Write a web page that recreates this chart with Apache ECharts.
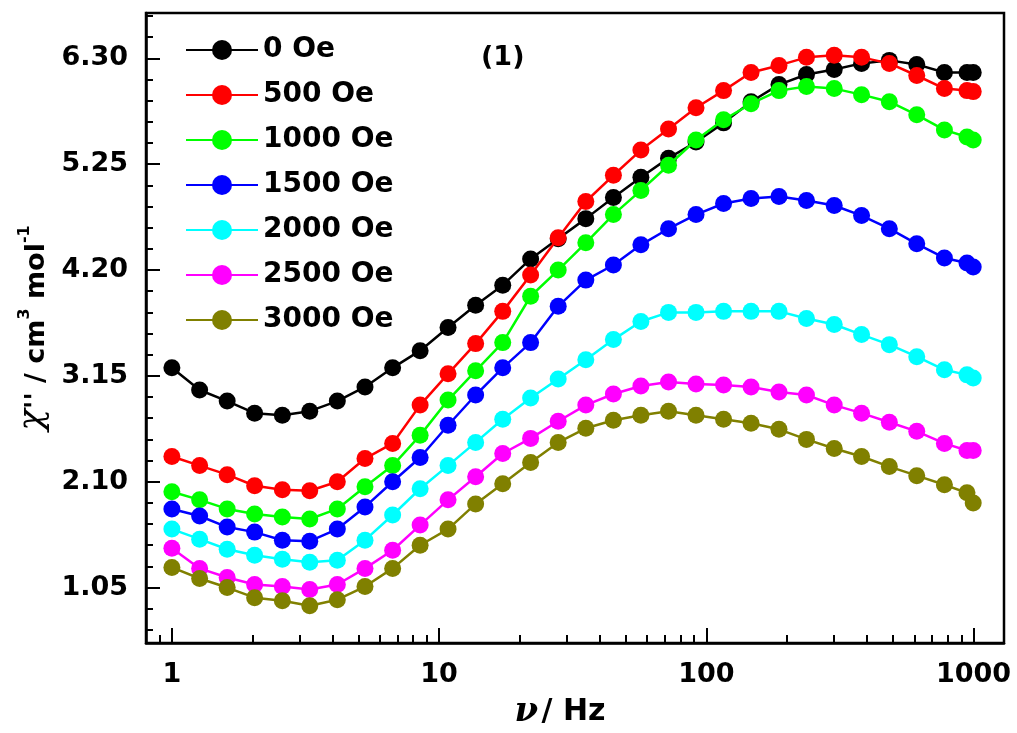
<!DOCTYPE html>
<html>
<head>
<meta charset="utf-8">
<title>AC susceptibility χ'' vs frequency</title>
<script src="https://cdn.jsdelivr.net/npm/echarts@6/dist/echarts.min.js"></script>
<style>
  html, body { margin: 0; padding: 0; background: #ffffff; }
  #chart { width: 1017px; height: 733px; }
</style>
</head>
<body>
<div id="chart"></div>
<script>
// Frequencies of the ac measurement (Hz)
const freqHz = [1, 1.27, 1.61, 2.04, 2.59, 3.28, 4.16, 5.28, 6.70, 8.49,
  10.8, 13.7, 17.3, 22.0, 27.9, 35.4, 44.9, 56.9, 72.2, 91.5,
  116, 147, 187, 237, 301, 381, 484, 613, 778, 945, 997];

// Out-of-phase susceptibility χ'' (cm3 mol-1) for each applied dc field
const chi0 = [3.23, 3.01, 2.90, 2.78, 2.76, 2.80, 2.90, 3.04, 3.23, 3.40,
  3.63, 3.85, 4.05, 4.31, 4.51, 4.71, 4.92, 5.12, 5.31, 5.47,
  5.66, 5.87, 6.04, 6.14, 6.19, 6.25, 6.28, 6.24, 6.16, 6.16, 6.16];
const chi500 = [2.35, 2.26, 2.17, 2.06, 2.02, 2.01, 2.10, 2.33, 2.48, 2.86,
  3.17, 3.47, 3.79, 4.15, 4.52, 4.88, 5.14, 5.39, 5.60, 5.81,
  5.98, 6.16, 6.23, 6.31, 6.33, 6.31, 6.25, 6.13, 6.00, 5.98, 5.97];
const chi1000 = [2.00, 1.92, 1.83, 1.78, 1.75, 1.73, 1.83, 2.05, 2.26, 2.56,
  2.91, 3.20, 3.48, 3.94, 4.20, 4.47, 4.75, 4.99, 5.24, 5.49,
  5.69, 5.85, 5.98, 6.02, 6.00, 5.94, 5.87, 5.74, 5.59, 5.52, 5.49];
const chi1500 = [1.83, 1.76, 1.65, 1.60, 1.52, 1.51, 1.63, 1.85, 2.10, 2.34,
  2.66, 2.96, 3.23, 3.48, 3.84, 4.10, 4.25, 4.45, 4.61, 4.75,
  4.86, 4.91, 4.93, 4.89, 4.84, 4.74, 4.61, 4.46, 4.32, 4.27, 4.23];
const chi2000 = [1.63, 1.53, 1.43, 1.37, 1.33, 1.30, 1.32, 1.52, 1.77, 2.03,
  2.26, 2.49, 2.72, 2.93, 3.12, 3.31, 3.51, 3.69, 3.78, 3.78,
  3.79, 3.79, 3.79, 3.72, 3.66, 3.56, 3.46, 3.34, 3.21, 3.16, 3.13];
const chi2500 = [1.44, 1.24, 1.15, 1.08, 1.06, 1.03, 1.08, 1.24, 1.42, 1.67,
  1.92, 2.15, 2.38, 2.53, 2.70, 2.86, 2.97, 3.05, 3.09, 3.07,
  3.06, 3.04, 2.99, 2.96, 2.86, 2.78, 2.69, 2.60, 2.48, 2.41, 2.41];
const chi3000 = [1.25, 1.14, 1.05, 0.95, 0.92, 0.87, 0.93, 1.06, 1.24, 1.47,
  1.63, 1.88, 2.08, 2.29, 2.49, 2.63, 2.71, 2.76, 2.80, 2.76,
  2.72, 2.68, 2.62, 2.52, 2.43, 2.35, 2.25, 2.16, 2.07, 1.99, 1.89];

const fieldLabels = ['0 Oe', '500 Oe', '1000 Oe', '1500 Oe', '2000 Oe', '2500 Oe', '3000 Oe'];
const fieldColors = ['#000000', '#ff0000', '#00ff00', '#0000ff', '#00ffff', '#ff00ff', '#808000'];
const chiSets = [chi0, chi500, chi1000, chi1500, chi2000, chi2500, chi3000];

// Axis ticks
const xMajorTicks = [1, 10, 100, 1000];
const xMinorTicks = [0.9, 2, 3, 4, 5, 6, 7, 8, 9, 20, 30, 40, 50, 60, 70, 80, 90,
  200, 300, 400, 500, 600, 700, 800, 900];
const yMajorTicks = [1.05, 2.10, 3.15, 4.20, 5.25, 6.30];
const yMinorTicks = [0.63, 0.84, 1.26, 1.47, 1.68, 1.89, 2.31, 2.52, 2.73, 2.94,
  3.36, 3.57, 3.78, 3.99, 4.41, 4.62, 4.83, 5.04, 5.46, 5.67, 5.88, 6.09, 6.51, 6.72];

const X_MIN = 0.8, X_MAX = 1300, Y_MIN = 0.5, Y_MAX = 6.75;
const FONT = 'DejaVu Sans';

const chart = echarts.init(document.getElementById('chart'), null, { renderer: 'canvas' });

const series = chiSets.map((vals, i) => ({
  name: fieldLabels[i],
  type: 'line',
  xAxisIndex: 0,
  yAxisIndex: 0,
  data: freqHz.map((f, j) => [f, vals[j]]),
  symbol: 'circle',
  symbolSize: 17,
  showSymbol: true,
  lineStyle: { color: fieldColors[i], width: 2.5 },
  itemStyle: { color: fieldColors[i] },
  emphasis: { disabled: true },
  z: 2 + i
}));

const option = {
  animation: false,
  backgroundColor: '#ffffff',
  grid: {
    left: 146, right: 13, top: 13, bottom: 90,
    show: true, borderColor: '#000000', borderWidth: 2.5,
    backgroundColor: 'transparent',
    outerBoundsMode: 'none'
  },
  legend: {
    orient: 'vertical',
    left: 180, top: 31,
    itemWidth: 72, itemHeight: 25, itemGap: 17, itemTextGap: 10,
    selectedMode: false,
    textStyle: { fontFamily: FONT, fontWeight: 'bold', fontSize: 28, color: '#000000', lineHeight: 25 },
    data: fieldLabels
  },
  xAxis: [
    {
      type: 'log', logBase: 10, min: X_MIN, max: X_MAX,
      position: 'bottom',
      axisLine: { show: true, onZero: false, lineStyle: { color: '#000', width: 2.5 } },
      axisTick: { show: true, inside: true, length: 15, customValues: xMajorTicks, lineStyle: { color: '#000', width: 2 } },
      axisLabel: {
        show: true, customValues: xMajorTicks, margin: 18,
        fontFamily: FONT, fontWeight: 'bold', fontSize: 27, color: '#000',
        formatter: v => String(Math.round(v))
      },
      splitLine: { show: false },
      minorTick: { show: false },
      name: '{nu|ν} {t|/ Hz}',
      nameLocation: 'middle', nameGap: 52,
      nameTextStyle: {
        padding: [0, 30, 0, 0],
        rich: {
          nu: { fontFamily: 'DejaVu Serif', fontStyle: 'italic', fontWeight: 'bold', fontSize: 34, color: '#000' },
          t: { fontFamily: FONT, fontWeight: 'bold', fontSize: 30, color: '#000' }
        }
      }
    },
    {
      type: 'log', logBase: 10, min: X_MIN, max: X_MAX,
      position: 'bottom', gridIndex: 0,
      axisLine: { show: false },
      axisTick: { show: true, inside: true, length: 8, customValues: xMinorTicks, lineStyle: { color: '#000', width: 2 } },
      axisLabel: { show: false },
      splitLine: { show: false }
    }
  ],
  yAxis: [
    {
      type: 'value', min: Y_MIN, max: Y_MAX,
      position: 'left',
      axisLine: { show: true, onZero: false, lineStyle: { color: '#000', width: 2.5 } },
      axisTick: { show: true, inside: true, length: 14, customValues: yMajorTicks, lineStyle: { color: '#000', width: 2 } },
      axisLabel: {
        show: true, customValues: yMajorTicks, margin: 18,
        fontFamily: FONT, fontWeight: 'bold', fontSize: 27, color: '#000',
        formatter: v => v.toFixed(2)
      },
      splitLine: { show: false },
      name: '{chi|χ}{t|\'\' / cm}{sup|3}{t| mol}{sup|-1}',
      nameLocation: 'middle', nameRotate: 90, nameGap: 94,
      nameTextStyle: {
        rich: {
          chi: { fontFamily: 'DejaVu Serif', fontStyle: 'italic', fontSize: 36, color: '#000', verticalAlign: 'bottom', lineHeight: 34 },
          t: { fontFamily: FONT, fontWeight: 'bold', fontSize: 27, color: '#000', verticalAlign: 'bottom', lineHeight: 34 },
          sup: { fontFamily: FONT, fontWeight: 'bold', fontSize: 16, color: '#000', verticalAlign: 'top', lineHeight: 34 }
        }
      }
    },
    {
      type: 'value', min: Y_MIN, max: Y_MAX,
      position: 'left', gridIndex: 0,
      axisLine: { show: false },
      axisTick: { show: true, inside: true, length: 7, customValues: yMinorTicks, lineStyle: { color: '#000', width: 2 } },
      axisLabel: { show: false },
      splitLine: { show: false }
    }
  ],
  graphic: [
    {
      type: 'text', left: 481, top: 44, silent: true,
      style: { text: '(1)', fontFamily: FONT, fontWeight: 'bold', fontSize: 27, fill: '#000' }
    }
  ],
  series: series
};

chart.setOption(option);
</script>
</body>
</html>
